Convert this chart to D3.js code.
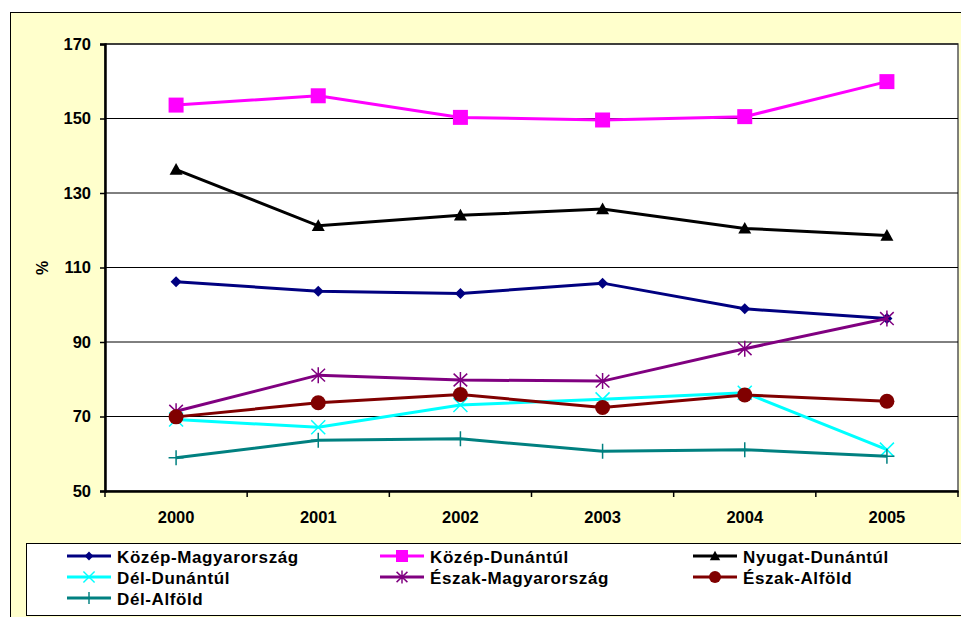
<!DOCTYPE html>
<html>
<head>
<meta charset="utf-8">
<script src="https://cdn.jsdelivr.net/npm/d3@7"></script>
<style>
  body { margin: 0; background: #fff; }
  text { font-family: "Liberation Sans", Arial, sans-serif; font-weight: bold; }
</style>
</head>
<body>
<div id="chart-area"></div>
<script>

// data
let years = ["2000", "2001", "2002", "2003", "2004", "2005"];
let yTicks = [50, 70, 90, 110, 130, 150, 170];

let kozepMagyarorszag = [106.2, 103.6, 103.0, 105.8, 98.9, 96.3];
let kozepDunantul     = [153.6, 156.1, 150.3, 149.6, 150.5, 159.9];
let nyugatDunantul    = [136.3, 121.2, 124.0, 125.7, 120.5, 118.6];
let delDunantul       = [69.2, 67.1, 73.1, 74.6, 76.4, 61.1];
let eszakMagyarorszag = [71.4, 81.1, 79.8, 79.5, 88.2, 96.3];
let eszakAlfold       = [69.9, 73.7, 75.9, 72.4, 75.8, 74.1];
let delAlfold         = [58.9, 63.6, 64.0, 60.7, 61.1, 59.3];

let series = [
    {name: "Közép-Magyarország", values: kozepMagyarorszag, color: "#000080", marker: "diamond"},
    {name: "Közép-Dunántúl", values: kozepDunantul, color: "#FF00FF", marker: "square"},
    {name: "Nyugat-Dunántúl", values: nyugatDunantul, color: "#000000", marker: "triangle"},
    {name: "Dél-Dunántúl", values: delDunantul, color: "#00FFFF", marker: "x"},
    {name: "Észak-Magyarország", values: eszakMagyarorszag, color: "#800080", marker: "star"},
    {name: "Észak-Alföld", values: eszakAlfold, color: "#800000", marker: "circle"},
    {name: "Dél-Alföld", values: delAlfold, color: "#008080", marker: "plus"}
];

// margin conventions
let margin = {top: 44, right: 1, bottom: 126, left: 105},
    width = 961 - margin.left - margin.right,
    height = 617 - margin.top - margin.bottom;

let svg = d3.select("#chart-area").append("svg")
    .attr("width", 961)
    .attr("height", 617);

// chart area background
svg.append("rect")
    .attr("x", 10.5).attr("y", 12.5)
    .attr("width", 970).attr("height", 620)
    .attr("fill", "#FFFFCC")
    .attr("stroke", "#000");

let g = svg.append("g")
    .attr("transform", "translate(" + margin.left + "," + margin.top + ")");

// plot area
g.append("rect")
    .attr("width", width - 2).attr("height", height)
    .attr("fill", "#fff")
    .attr("stroke", "#555")
    .attr("stroke-width", 1.5);

let x = d3.scaleBand().domain(years).range([0, width - 2]);
let y = d3.scaleLinear().domain([50, 170]).range([height, 0]);

// gridlines
g.selectAll(".grid").data(yTicks.slice(1))
    .enter().append("line")
    .attr("class", "grid")
    .attr("x1", 0).attr("x2", width - 2)
    .attr("y1", d => y(d)).attr("y2", d => y(d))
    .attr("stroke", "#000")
    .attr("stroke-width", 1);

// y axis
let yAxis = d3.axisLeft(y).tickValues(yTicks).tickSize(5).tickPadding(9);
let yG = g.append("g").call(yAxis);
yG.select(".domain").attr("stroke-width", 2.5);
yG.selectAll(".tick line").attr("stroke-width", 1.5);
yG.selectAll("text").attr("font-size", "16.5px").attr("fill", "#000")
    .attr("font-family", "'Liberation Sans', Arial, sans-serif");

// x axis
let xAxis = d3.axisBottom(x).tickSize(0).tickPadding(20);
let xG = g.append("g").attr("transform", "translate(0," + height + ")").call(xAxis);
xG.select(".domain").attr("stroke-width", 2.5);
xG.selectAll("text").attr("font-size", "16.5px").attr("fill", "#000")
    .attr("font-family", "'Liberation Sans', Arial, sans-serif");

// tick marks between categories
let bounds = years.map((d, i) => x(d)).concat([x.range()[1]]);
xG.selectAll(".btick").data(bounds)
    .enter().append("line")
    .attr("class", "btick")
    .attr("x1", d => d).attr("x2", d => d)
    .attr("y1", 0).attr("y2", 6)
    .attr("stroke", "#000").attr("stroke-width", 1.5);

// y label
svg.append("text")
    .attr("transform", "translate(48,268) rotate(-90)")
    .attr("text-anchor", "middle")
    .attr("font-size", "16px")
    .text("%");

function markerPath(type) {
    let p = d3.path();
    if (type === "diamond") {
        let r = 5.5;
        p.moveTo(0, -r); p.lineTo(r, 0); p.lineTo(0, r); p.lineTo(-r, 0); p.closePath();
    } else if (type === "square") {
        let r = 7.5;
        p.rect(-r, -r, 2 * r, 2 * r);
    } else if (type === "triangle") {
        let r = 6.5;
        p.moveTo(0, -r); p.lineTo(r, r * 0.8); p.lineTo(-r, r * 0.8); p.closePath();
    } else if (type === "circle") {
        p.arc(0, 0, 7.5, 0, 2 * Math.PI);
    } else if (type === "x") {
        let r = 7;
        p.moveTo(-r, -r); p.lineTo(r, r); p.moveTo(r, -r); p.lineTo(-r, r);
    } else if (type === "star") {
        let r = 8;
        p.moveTo(-r * 0.85, -r * 0.8); p.lineTo(r * 0.85, r * 0.8);
        p.moveTo(r * 0.85, -r * 0.8); p.lineTo(-r * 0.85, r * 0.8);
        p.moveTo(0, -r); p.lineTo(0, r);
    } else if (type === "plus") {
        let r = 7.5;
        p.moveTo(-r, 0); p.lineTo(r, 0); p.moveTo(0, -r); p.lineTo(0, r);
    }
    return p.toString();
}

function isFilled(type) {
    return ["diamond", "square", "triangle", "circle"].includes(type);
}

let line = d3.line()
    .x((d, i) => x(years[i]) + x.bandwidth() / 2)
    .y(d => y(d));

series.forEach(function (s) {
    g.append("path")
        .datum(s.values)
        .attr("fill", "none")
        .attr("stroke", s.color)
        .attr("stroke-width", 3)
        .attr("d", line);

    g.selectAll(".m-" + s.marker).data(s.values)
        .enter().append("path")
        .attr("class", "m-" + s.marker)
        .attr("transform", (d, i) => "translate(" + (x(years[i]) + x.bandwidth() / 2) + "," + y(d) + ")")
        .attr("d", markerPath(s.marker))
        .attr("fill", isFilled(s.marker) ? s.color : "none")
        .attr("stroke", s.color)
        .attr("stroke-width", isFilled(s.marker) ? 0 : 1.5);
});

// legend
svg.append("rect")
    .attr("x", 26.5).attr("y", 543.5)
    .attr("width", 960).attr("height", 72)
    .attr("fill", "#fff")
    .attr("stroke", "#000");

let colX = [67, 380, 693];
let rowY = [556, 577, 598];

let legend = svg.selectAll(".legend-item").data(series)
    .enter().append("g")
    .attr("class", "legend-item")
    .attr("transform", (d, i) => "translate(" + colX[i % 3] + "," + rowY[Math.floor(i / 3)] + ")");

legend.append("line")
    .attr("x1", 0).attr("x2", 44)
    .attr("stroke", d => d.color)
    .attr("stroke-width", 3);

legend.append("path")
    .attr("transform", "translate(22,0) scale(0.8)")
    .attr("d", d => markerPath(d.marker))
    .attr("fill", d => isFilled(d.marker) ? d.color : "none")
    .attr("stroke", d => d.color)
    .attr("stroke-width", d => isFilled(d.marker) ? 0 : 1.8);

legend.append("text")
    .attr("x", 50)
    .attr("y", 7)
    .attr("font-size", "17px")
    .attr("letter-spacing", "0.6px")
    .text(d => d.name);

</script>
</body>
</html>
